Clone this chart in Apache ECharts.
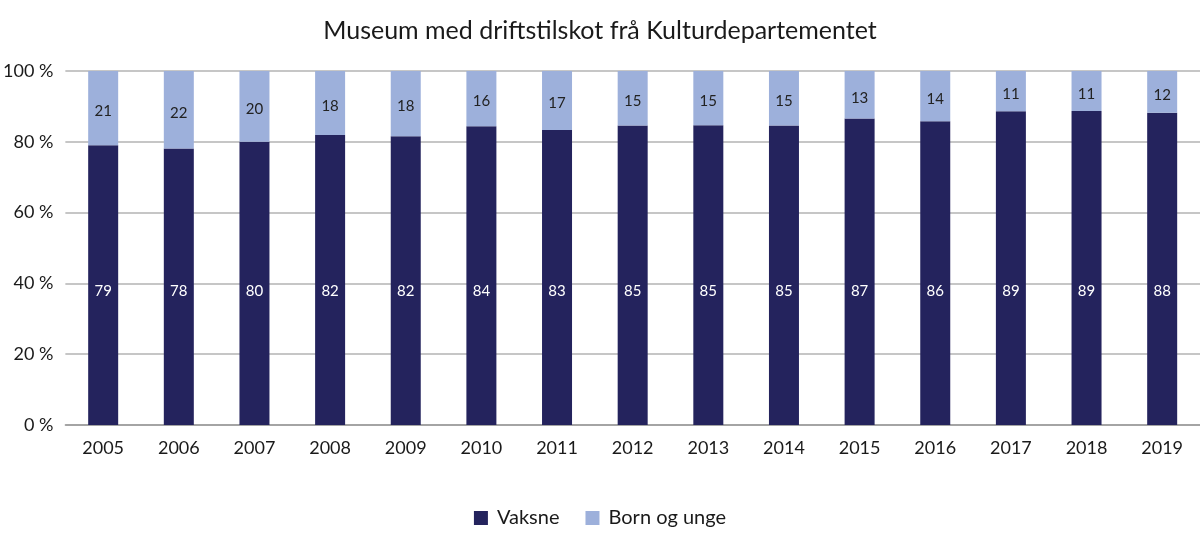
<!DOCTYPE html>
<html><head><meta charset="utf-8">
<script src="https://cdn.jsdelivr.net/npm/echarts@6/dist/echarts.min.js"></script>
<style>html,body{margin:0;padding:0;background:#fff}#c{width:1200px;height:547px}</style>
</head><body><div id="c"></div>
<script>
const years = ['2005','2006','2007','2008','2009','2010','2011','2012','2013','2014','2015','2016','2017','2018','2019'];
const vaksne = [79.0, 78.1, 80.0, 81.9, 81.6, 84.4, 83.3, 84.6, 84.7, 84.6, 86.6, 85.8, 88.6, 88.7, 88.2];
const bornOgUnge = [21.0, 21.9, 20.0, 18.1, 18.4, 15.6, 16.7, 15.4, 15.3, 15.4, 13.4, 14.2, 11.4, 11.3, 11.8];
const yTicks = [0, 20, 40, 60, 80, 100];

const FONT = 'Lato';
const chart = echarts.init(document.getElementById('c'));
chart.setOption({
  animation: false,
  textStyle: { fontFamily: FONT },
  title: {
    text: 'Museum med driftstilskot frå Kulturdepartementet',
    left: 'center', top: 13,
    textStyle: { fontFamily: FONT, fontSize: 25, fontWeight: 'normal', color: '#1a1a1a' }
  },
  legend: {
    bottom: 14, left: 'center',
    itemWidth: 14, itemHeight: 14, itemGap: 26,
    icon: 'rect',
    textStyle: { fontFamily: FONT, fontSize: 20, color: '#1a1a1a', padding: [0, 0, 0, 4] },
    data: ['Vaksne', 'Born og unge']
  },
  grid: { left: 65, right: 0, top: 71, bottom: 122 },
  xAxis: {
    type: 'category', data: years,
    axisLine: { lineStyle: { color: '#999', width: 1.5 } },
    axisTick: { show: false },
    axisLabel: { fontFamily: FONT, fontSize: 18, color: '#1a1a1a', margin: 14 }
  },
  yAxis: {
    type: 'value', min: yTicks[0], max: yTicks[yTicks.length-1], interval: 20,
    axisLine: { show: false }, axisTick: { show: false },
    splitLine: { lineStyle: { color: '#b3b3b3', width: 1.5 } },
    axisLabel: { fontFamily: FONT, fontSize: 18, color: '#1a1a1a', margin: 12,
      formatter: v => v + ' %' }
  },
  series: [
    {
      name: 'Vaksne', type: 'bar', stack: 's', data: vaksne, barWidth: 30,
      itemStyle: { color: '#24235D' },
      label: { show: true, position: 'insideBottom', distance: 126,
        color: '#fff', fontFamily: FONT, fontSize: 15,
        formatter: p => Math.round(p.value) }
    },
    {
      name: 'Born og unge', type: 'bar', stack: 's', data: bornOgUnge, barWidth: 30,
      itemStyle: { color: '#9DB0DB' },
      label: { show: true, position: 'inside', offset: [0, 3],
        color: '#222', fontFamily: FONT, fontSize: 15,
        formatter: p => Math.round(p.value) }
    }
  ]
});
</script></body></html>
